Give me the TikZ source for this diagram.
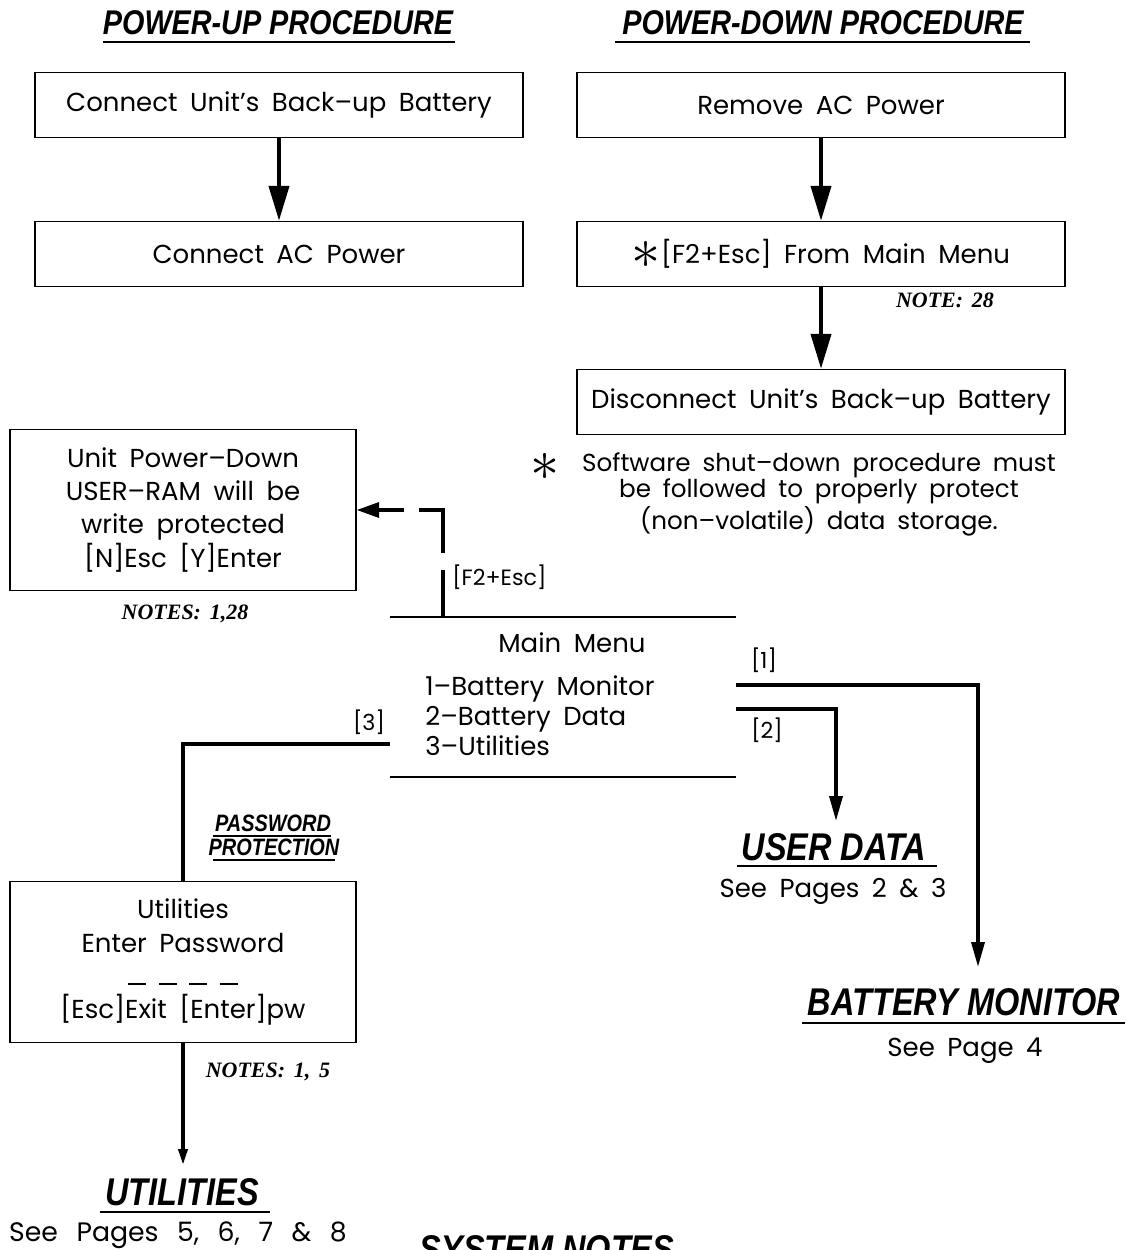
\documentclass[tikz,border=0pt]{standalone}
\usepackage{fontspec}
\setmainfont[WordSpace=1.8]{Poppins}
\newfontfamily\widefont[WordSpace=2.6]{Poppins}
\newfontfamily\headfont[FakeStretch=0.84]{Liberation Sans}
\newfontfamily\notefont[WordSpace=1.6]{Liberation Serif}
\usepackage{tikz}
\usetikzlibrary{positioning, arrows.meta}
\newcommand{\bigstar}{\raisebox{-0.35ex}{\scalebox{2.3}{$\ast$}}}
\newcommand{\pwdash}{\rule{0.36cm}{1pt}}

\begin{document}
\begin{tikzpicture}[
    x=0.02cm, y=-0.02cm,
    box/.style={rectangle, draw, line width=0.8pt, minimum width=9.76cm, minimum height=1.3cm, align=center, font=\fontsize{14.8}{17}\selectfont},
    scrn/.style={box, minimum width=6.92cm, minimum height=3.22cm, font=\fontsize{14.8}{18.8}\selectfont},
    txt/.style={font=\fontsize{14.8}{17}\selectfont, align=center, inner sep=0pt},
    key/.style={font=\fontsize{12.6}{14}\selectfont, inner sep=0pt},
    hd/.style={font=\headfont\bfseries\itshape\fontsize{19.5}{22}\selectfont, inner sep=0pt},
    bighd/.style={font=\headfont\bfseries\itshape\fontsize{22}{25}\selectfont, inner sep=0pt},
    smallhd/.style={font=\headfont\bfseries\itshape\fontsize{13.5}{15}\selectfont, inner sep=0pt},
    note/.style={font=\notefont\bfseries\itshape\fontsize{12.5}{14}\selectfont, inner sep=0pt},
    uline/.style={line width=1.3pt},
    rule/.style={line width=1pt},
    arr/.style={-{Triangle[length=0.7cm, width=0.4cm]}, line width=2.3pt},
    link/.style={-{Triangle[length=0.5cm, width=0.26cm]}, line width=2pt},
    dlink/.style={-{Triangle[length=0.45cm, width=0.3cm]}, line width=2pt, dash pattern=on 0.94cm off 0.34cm on 1.34cm off 0.3cm},
    tiny/.style={-{Triangle[length=0.32cm, width=0.18cm]}, line width=2pt}
]
    \clip (0,0) rectangle (1127,1250);

    \node[hd, anchor=base] (uptitle) at (278,35) {POWER-UP PROCEDURE};
    \draw[uline] (103,42) -- (455,42);
    \node[hd, anchor=base] (dntitle) at (823,35) {POWER-DOWN PROCEDURE};
    \draw[uline] (615,42) -- (1030,42);

    \node[box] (upbatt) at (279,105) {Connect Unit's Back–up Battery};
    \node[box] (upac) at (279,254) {Connect AC Power};
    \node[box] (rmac) at (821,105) {Remove AC Power};
    \node[box] (swdown) at (821,254) {\bigstar[F2+Esc] From Main Menu};
    \node[box] (disbatt) at (821,402) {Disconnect Unit's Back–up Battery};
    \node[note, anchor=base] (n28) at (945,307) {NOTE: 28};

    \draw[arr] (upbatt) -- (upac);
    \draw[arr] (rmac) -- (swdown);
    \draw[arr] (swdown) -- (disbatt);

    \node[txt] (star) at (545,467) {\bigstar};
    \node[txt, font=\fontsize{14}{15.3}\selectfont] (swnote) at (819,494) {Software shut–down procedure must\\be followed to properly protect\\(non–volatile) data storage.};

    \node[scrn] (pdown) at (183,510) {Unit Power–Down\\USER–RAM will be\\write protected\\{[N]}Esc [Y]Enter};
    \node[note, anchor=base] (n128) at (185,619) {NOTES: 1,28};

    \node[minimum width=6.92cm, minimum height=3.2cm] (menu) at (563,697) {};
    \draw[rule] (menu.north west) -- (menu.north east);
    \draw[rule] (menu.south west) -- (menu.south east);
    \node[txt, anchor=base] (mmtitle) at (572,652) {Main Menu};
    \node[txt, anchor=base west] (m1) at (425,695) {1–Battery Monitor};
    \node[txt, anchor=base west] (m2) at (425,725) {2–Battery Data};
    \node[txt, anchor=base west] (m3) at (425,755) {3–Utilities};

    \coordinate (f2) at (443,617);
    \draw[dlink] (f2) |- (pdown.east);
    \node[key, anchor=west] (kf2) at (452,577) {[F2+Esc]};

    \node[bighd, anchor=base] (userdata) at (834,860) {USER DATA};
    \draw[uline] (737,866) -- (937,866);
    \node[txt, anchor=base] (udpages) at (833,897) {See Pages 2 \& 3};
    \coordinate (udtop) at (836,821);

    \node[bighd, anchor=base] (batmon) at (964,1015) {BATTERY MONITOR};
    \draw[uline] (802,1023) -- (1125,1023);
    \node[txt, anchor=base] (bmpages) at (965,1056) {See Page 4};
    \coordinate (bmtop) at (978,967);

    \draw[link] (menu.east |- 0,685) -| (bmtop);
    \node[key] (k1) at (764,660) {[1]};
    \draw[link] (menu.east |- 0,709) -| (udtop);
    \node[key] (k2) at (767,730) {[2]};

    \node[scrn] (pword) at (183,962) {Utilities\\Enter Password\\\pwdash\ \pwdash\ \pwdash\ \pwdash\\{[Esc]}Exit [Enter]pw};
    \node[smallhd, anchor=base] (pw1) at (273,831) {PASSWORD};
    \draw[uline, line width=1pt] (213,836) -- (331,836);
    \node[smallhd, anchor=base] (pw2) at (274,855) {PROTECTION};
    \draw[uline, line width=1pt] (213,860) -- (335,860);

    \draw[line width=2pt] (menu.west |- 0,744) -| (pword.north);
    \node[key] (k3) at (369,722) {[3]};
    \node[note, anchor=base] (n15) at (268,1077) {NOTES: 1, 5};

    \node[bighd, anchor=base] (utils) at (182,1205) {UTILITIES};
    \draw[uline] (100,1212) -- (270,1212);
    \node[txt, anchor=base, font=\widefont\fontsize{15.2}{17}\selectfont] (utpages) at (178,1241) {See Pages 5, 6, 7 \& 8};
    \coordinate (uttop) at (183,1165);
    \draw[tiny] (pword.south) -- (uttop);

    \node[bighd, anchor=base] (sysnotes) at (547,1262) {SYSTEM NOTES};
\end{tikzpicture}
\end{document}
